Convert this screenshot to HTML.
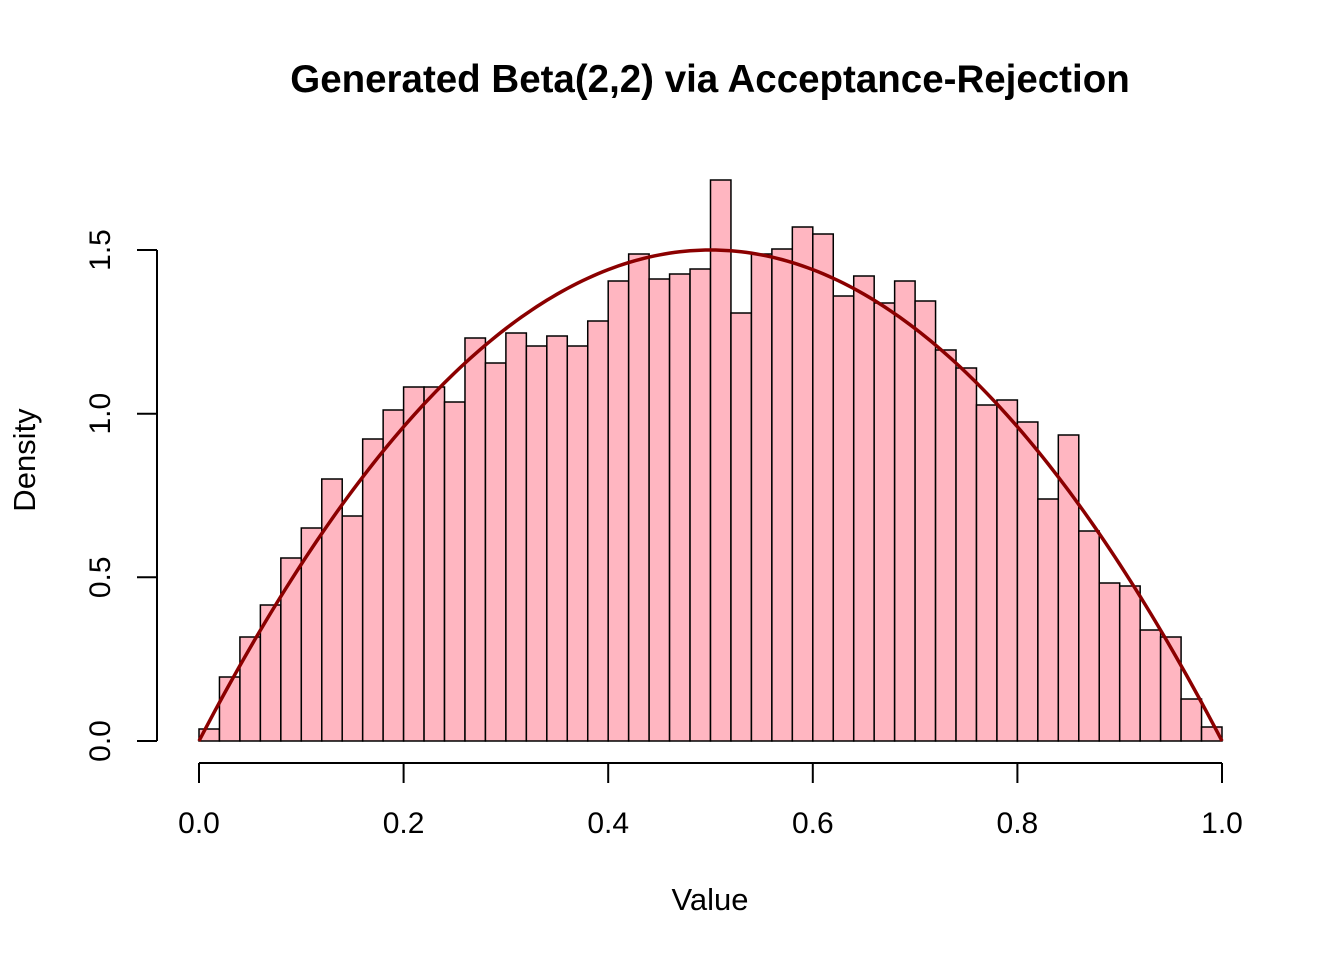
<!DOCTYPE html>
<html><head><meta charset="utf-8"><style>
html,body{margin:0;padding:0;background:#fff;}
svg{display:block;font-family:"Liberation Sans",sans-serif;}
</style></head><body>
<svg id="s" width="1344" height="960" viewBox="0 0 1344 960" xmlns="http://www.w3.org/2000/svg">
<rect width="1344" height="960" fill="#fff"/>
<text x="710" y="92" text-anchor="middle" font-size="38.5" font-weight="bold">Generated Beta(2,2) via Acceptance-Rejection</text>
<g id="bars"></g>
<path id="curve" fill="none" stroke="#8b0000" stroke-width="3.5"/>
<g stroke="#000" stroke-width="2" fill="none">
<line x1="199" y1="763" x2="1222" y2="763"/>
<line x1="199" y1="763" x2="199" y2="783"/>
<line x1="403.6" y1="763" x2="403.6" y2="783"/>
<line x1="608.2" y1="763" x2="608.2" y2="783"/>
<line x1="812.8" y1="763" x2="812.8" y2="783"/>
<line x1="1017.4" y1="763" x2="1017.4" y2="783"/>
<line x1="1222" y1="763" x2="1222" y2="783"/>
<line x1="157" y1="741" x2="157" y2="250"/>
<line x1="157" y1="741" x2="137" y2="741"/>
<line x1="157" y1="577.3" x2="137" y2="577.3"/>
<line x1="157" y1="413.7" x2="137" y2="413.7"/>
<line x1="157" y1="250" x2="137" y2="250"/>
</g>
<g font-size="30" text-anchor="middle">
<text x="199" y="833">0.0</text>
<text x="403.6" y="833">0.2</text>
<text x="608.2" y="833">0.4</text>
<text x="812.8" y="833">0.6</text>
<text x="1017.4" y="833">0.8</text>
<text x="1222" y="833">1.0</text>
<text x="710" y="910" font-size="31">Value</text>
<text transform="translate(110,741) rotate(-90)">0.0</text>
<text transform="translate(110,577.3) rotate(-90)">0.5</text>
<text transform="translate(110,413.7) rotate(-90)">1.0</text>
<text transform="translate(110,250) rotate(-90)">1.5</text>
<text transform="translate(35,460) rotate(-90)" font-size="31">Density</text>
</g>
</svg>
<script>
var tops=[729,677,637,605,558,528,479,516,439,410,387,387,402,338,363,333,346,336,346,321,281,254,279,274,269,180,313,254,249,227,234,296,276,303,281,301,350,368,405,400,422,499,435,531,583,586,630,637,699,727];
var ns="http://www.w3.org/2000/svg",g=document.getElementById("bars"),w=1023/50;
tops.forEach(function(t,i){var r=document.createElementNS(ns,"rect");
r.setAttribute("x",199+i*w);r.setAttribute("y",t);r.setAttribute("width",w);r.setAttribute("height",741-t);
r.setAttribute("fill","#ffb6c1");r.setAttribute("stroke","#000");r.setAttribute("stroke-width","1.5");g.appendChild(r);});
var d="";for(var k=0;k<=200;k++){var x=k/200;var px=199+1023*x,py=741-327.33*6*x*(1-x);d+=(k?"L":"M")+px.toFixed(2)+","+py.toFixed(2);}
document.getElementById("curve").setAttribute("d",d);
</script>
</body></html>
